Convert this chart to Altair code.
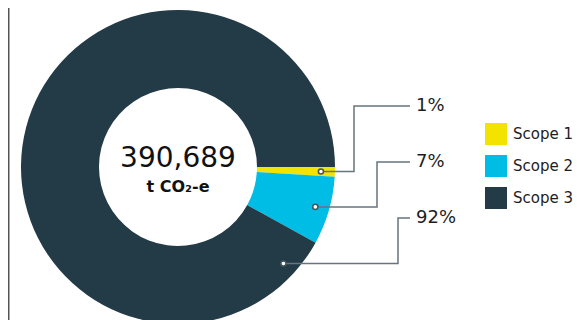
import altair as alt
import numpy as np
import pandas as pd

# ---- data ----
scopes = ["Scope 1", "Scope 2", "Scope 3"]
shares = [1, 7, 92]
pct_labels = ["1%", "7%", "92%"]
colors = ["#f3e400", "#00bde6", "#233a47"]
anchor_pct = [0.5, 4.5, 11.8]   # where each leader touches the ring (% of circle from 3 o'clock)
total_text = ["390,689"]
unit_text = ["t CO\u2082-e"]

# ---- layout ----
W, H = 570, 312
CX, CY = 170, 159
R_OUT, R_IN, R_DOT = 157, 79, 143
label_rows = [98, 154, 210]
elbow_cols = [346, 369, 390]
LINE_END = 402
LINE_COLOR = "#66767c"
FONT = "DejaVu Sans"

df = pd.DataFrame({"scope": scopes, "share": shares, "ord": [0, 1, 2]})

ang = np.array(anchor_pct) / 100 * 2 * np.pi
dot_x = CX + R_DOT * np.cos(ang)
dot_y = CY + R_DOT * np.sin(ang)

rows = []
for i in range(3):
    pts = [(dot_x[i], dot_y[i]), (elbow_cols[i], dot_y[i]),
           (elbow_cols[i], label_rows[i]), (LINE_END, label_rows[i])]
    for s, (px, py) in enumerate(pts):
        rows.append({"id": i, "step": s, "x": px, "y": py})
lines_df = pd.DataFrame(rows)
dots_df = pd.DataFrame({"x": dot_x, "y": dot_y})
labels_df = pd.DataFrame({"x": [LINE_END + 6] * 3, "y": label_rows, "t": pct_labels})

donut = alt.Chart(df).mark_arc(radius=R_OUT, radius2=R_IN).encode(
    theta=alt.Theta("share:Q", scale=alt.Scale(range=[np.pi / 2, np.pi / 2 + 2 * np.pi])),
    color=alt.Color(
        "scope:N",
        scale=alt.Scale(domain=scopes, range=colors),
        legend=alt.Legend(
            orient="none", legendX=477, legendY=115, title=None,
            symbolType="square", symbolSize=484, symbolStrokeWidth=0,
            symbolOpacity=1, labelFontSize=15, labelFont=FONT,
            labelColor="#1d1d1d", rowPadding=10, labelOffset=6,
        ),
    ),
    order=alt.Order("ord:Q"),
    x=alt.value(CX),
    y=alt.value(CY),
)

leaders = alt.Chart(lines_df).mark_line(color=LINE_COLOR, strokeWidth=1.5).encode(
    x=alt.X("x:Q", scale=None, axis=None),
    y=alt.Y("y:Q", scale=None, axis=None),
    detail="id:N",
    order="step:Q",
)

dots = alt.Chart(dots_df).mark_point(
    shape="circle", size=26, filled=True, fill="white", stroke="#46565c",
    strokeWidth=1.5, opacity=1,
).encode(
    x=alt.X("x:Q", scale=None, axis=None),
    y=alt.Y("y:Q", scale=None, axis=None),
)

pct = alt.Chart(labels_df).mark_text(
    align="left", baseline="middle", fontSize=18, font=FONT, color="#1d1d1d"
).encode(
    x=alt.X("x:Q", scale=None, axis=None),
    y=alt.Y("y:Q", scale=None, axis=None),
    text="t:N",
)

total = alt.Chart(pd.DataFrame({"t": total_text})).mark_text(
    align="center", baseline="middle", fontSize=28, font=FONT, color="#111111"
).encode(x=alt.value(CX), y=alt.value(CY - 8), text="t:N")

unit = alt.Chart(pd.DataFrame({"t": unit_text})).mark_text(
    align="center", baseline="middle", fontSize=16, font=FONT, fontWeight="bold",
    color="#111111"
).encode(x=alt.value(CX), y=alt.value(CY + 20), text="t:N")

edge = alt.Chart(pd.DataFrame({"a": [0]})).mark_rule(color="#555555", strokeWidth=1.5).encode(
    x=alt.value(0.75), y=alt.value(0), y2=alt.value(H + 20)
)

chart = alt.layer(donut, leaders, dots, pct, total, unit, edge).properties(
    width=W, height=H, padding=0, autosize=alt.AutoSizeParams(type="none")
).configure_view(strokeWidth=0)

chart.save("out.html", embed_options={"renderer": "svg", "actions": False})
